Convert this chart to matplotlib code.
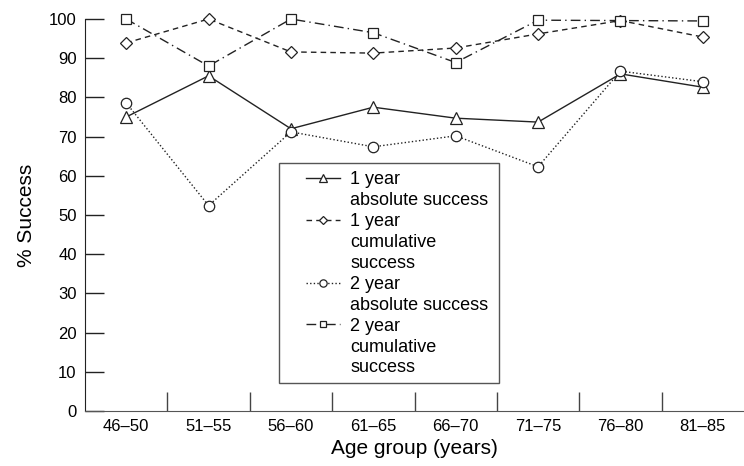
import numpy as np
import matplotlib.pyplot as plt
from matplotlib.lines import Line2D
from matplotlib.patches import Rectangle

plt.rcParams['font.family'] = ['Liberation Sans', 'DejaVu Sans']

age_groups = ['46\u201350', '51\u201355', '56\u201360', '61\u201365',
              '66\u201370', '71\u201375', '76\u201380', '81\u201385']
one_year_abs = [75.0, 85.5, 72.0, 77.5, 74.7, 73.7, 86.0, 82.6]
one_year_cum = [93.9, 100.0, 91.6, 91.3, 92.6, 96.2, 99.6, 95.4]
two_year_abs = [78.6, 52.4, 71.2, 67.4, 70.2, 62.3, 86.7, 84.0]
two_year_cum = [100.0, 88.0, 100.0, 96.5, 88.9, 99.7, 99.6, 99.5]
series_labels = ['1 year\nabsolute success',
                 '1 year\ncumulative\nsuccess',
                 '2 year\nabsolute success',
                 '2 year\ncumulative\nsuccess']
yticks = [0, 10, 20, 30, 40, 50, 60, 70, 80, 90, 100]

fig = plt.figure(figsize=(7.44, 4.66), dpi=100)
ax = fig.add_axes([85 / 744, 55 / 466, 659 / 744, 392 / 466])

x = np.arange(len(age_groups))
ink = '#222222'
common = dict(color=ink, lw=1.0, mfc='white', mec=ink, mew=0.9, clip_on=False)

lines = []
lines += ax.plot(x, one_year_abs, ls='-', marker='^', ms=8, **common)
lines += ax.plot(x, one_year_cum, ls=(0, (4, 3)), marker='D', ms=6.5, **common)
lines += ax.plot(x, two_year_abs, ls=(0, (1, 1.6)), marker='o', ms=7.5, **common)
lines += ax.plot(x, two_year_cum, ls=(0, (7, 3, 1, 3)), marker='s', ms=7, **common)

ax.set_xlim(-0.5, len(age_groups) - 0.5)
ax.set_ylim(0, 100)
ax.set_xticks(x)
ax.set_xticklabels(age_groups, fontsize=12)
ax.set_xticks(np.arange(0.5, len(age_groups) - 1, 1.0), minor=True)
ax.tick_params(axis='x', which='major', length=0, pad=6)
ax.tick_params(axis='x', which='minor', direction='in', length=14,
               width=1.0, color='#444444')
ax.set_yticks(yticks)
ax.tick_params(axis='y', direction='in', length=14, width=1.0,
               color=ink, labelsize=12, pad=6)

for side in ['top', 'right']:
    ax.spines[side].set_visible(False)
ax.spines['left'].set_color(ink)
ax.spines['bottom'].set_color('#555555')

ax.set_xlabel('Age group (years)', fontsize=15, labelpad=3)
ax.set_ylabel('% Success', fontsize=15, labelpad=9)

# handle sits on the first text line, the rest of the label follows below
handles, labels = [], []
blank = Line2D([], [], color='none')
for line, lab in zip(lines, series_labels):
    parts = lab.split('\n')
    handles.append(line)
    labels.append(parts[0])
    for p in parts[1:]:
        handles.append(blank)
        labels.append(p)

frame = Rectangle((0.2944, 0.0714), 0.3340, 0.5616, transform=ax.transAxes,
                  facecolor='white', edgecolor='#555555', lw=1.0, zorder=4)
ax.add_patch(frame)
leg = ax.legend(handles, labels, loc='upper left',
                bbox_to_anchor=(0.335, 0.611), frameon=False, fontsize=13,
                handlelength=1.9, handletextpad=0.55, labelspacing=0.215,
                borderpad=0, borderaxespad=0, markerscale=0.7)
leg.set_zorder(5)

fig.savefig('out.png', dpi=100)
